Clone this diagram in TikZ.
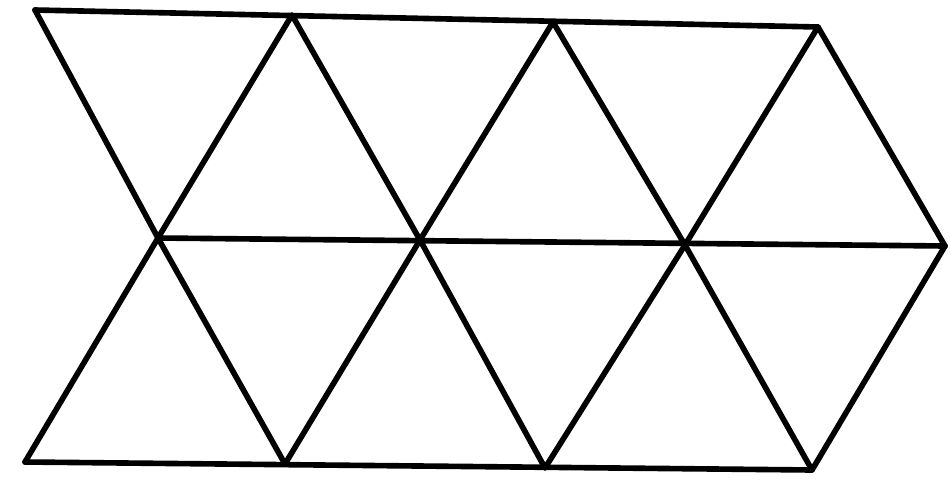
\documentclass[tikz,border=0pt]{standalone}
\usepackage{tikz}
\usepackage{xcolor}
\usetikzlibrary{positioning}
\tikzset{edge/.style={line width=3.2pt,line cap=round,line join=round}}

\begin{document}
\begin{tikzpicture}[x=0.02cm,y=-0.02cm]
        \useasboundingbox (0,0) rectangle (951,498);
        % vertices of the grid
        \coordinate (t1) at (35,10);  \coordinate (t2) at (292,15);
        \coordinate (t3) at (553,22); \coordinate (t4) at (818,27);
        \coordinate (m1) at (158,238); \coordinate (m2) at (420,240);
        \coordinate (m3) at (685,245); \coordinate (m4) at (945,246);
        \coordinate (b1) at (25,462);  \coordinate (b2) at (285,464);
        \coordinate (b3) at (545,468); \coordinate (b4) at (812,470);
        % horizontal lines
        \draw[edge](t1)--(t4);
        \draw[edge](m1)--(m4);
        \draw[edge](b1)--(b4);
        % slanted lines
        \draw[edge](t1)--(m1)--(t2)--(m2)--(t3)--(m3)--(t4)--(m4);
        \draw[edge](b1)--(m1)--(b2)--(m2)--(b3)--(m3)--(b4)--(m4);
      \end{tikzpicture}
\end{document}
